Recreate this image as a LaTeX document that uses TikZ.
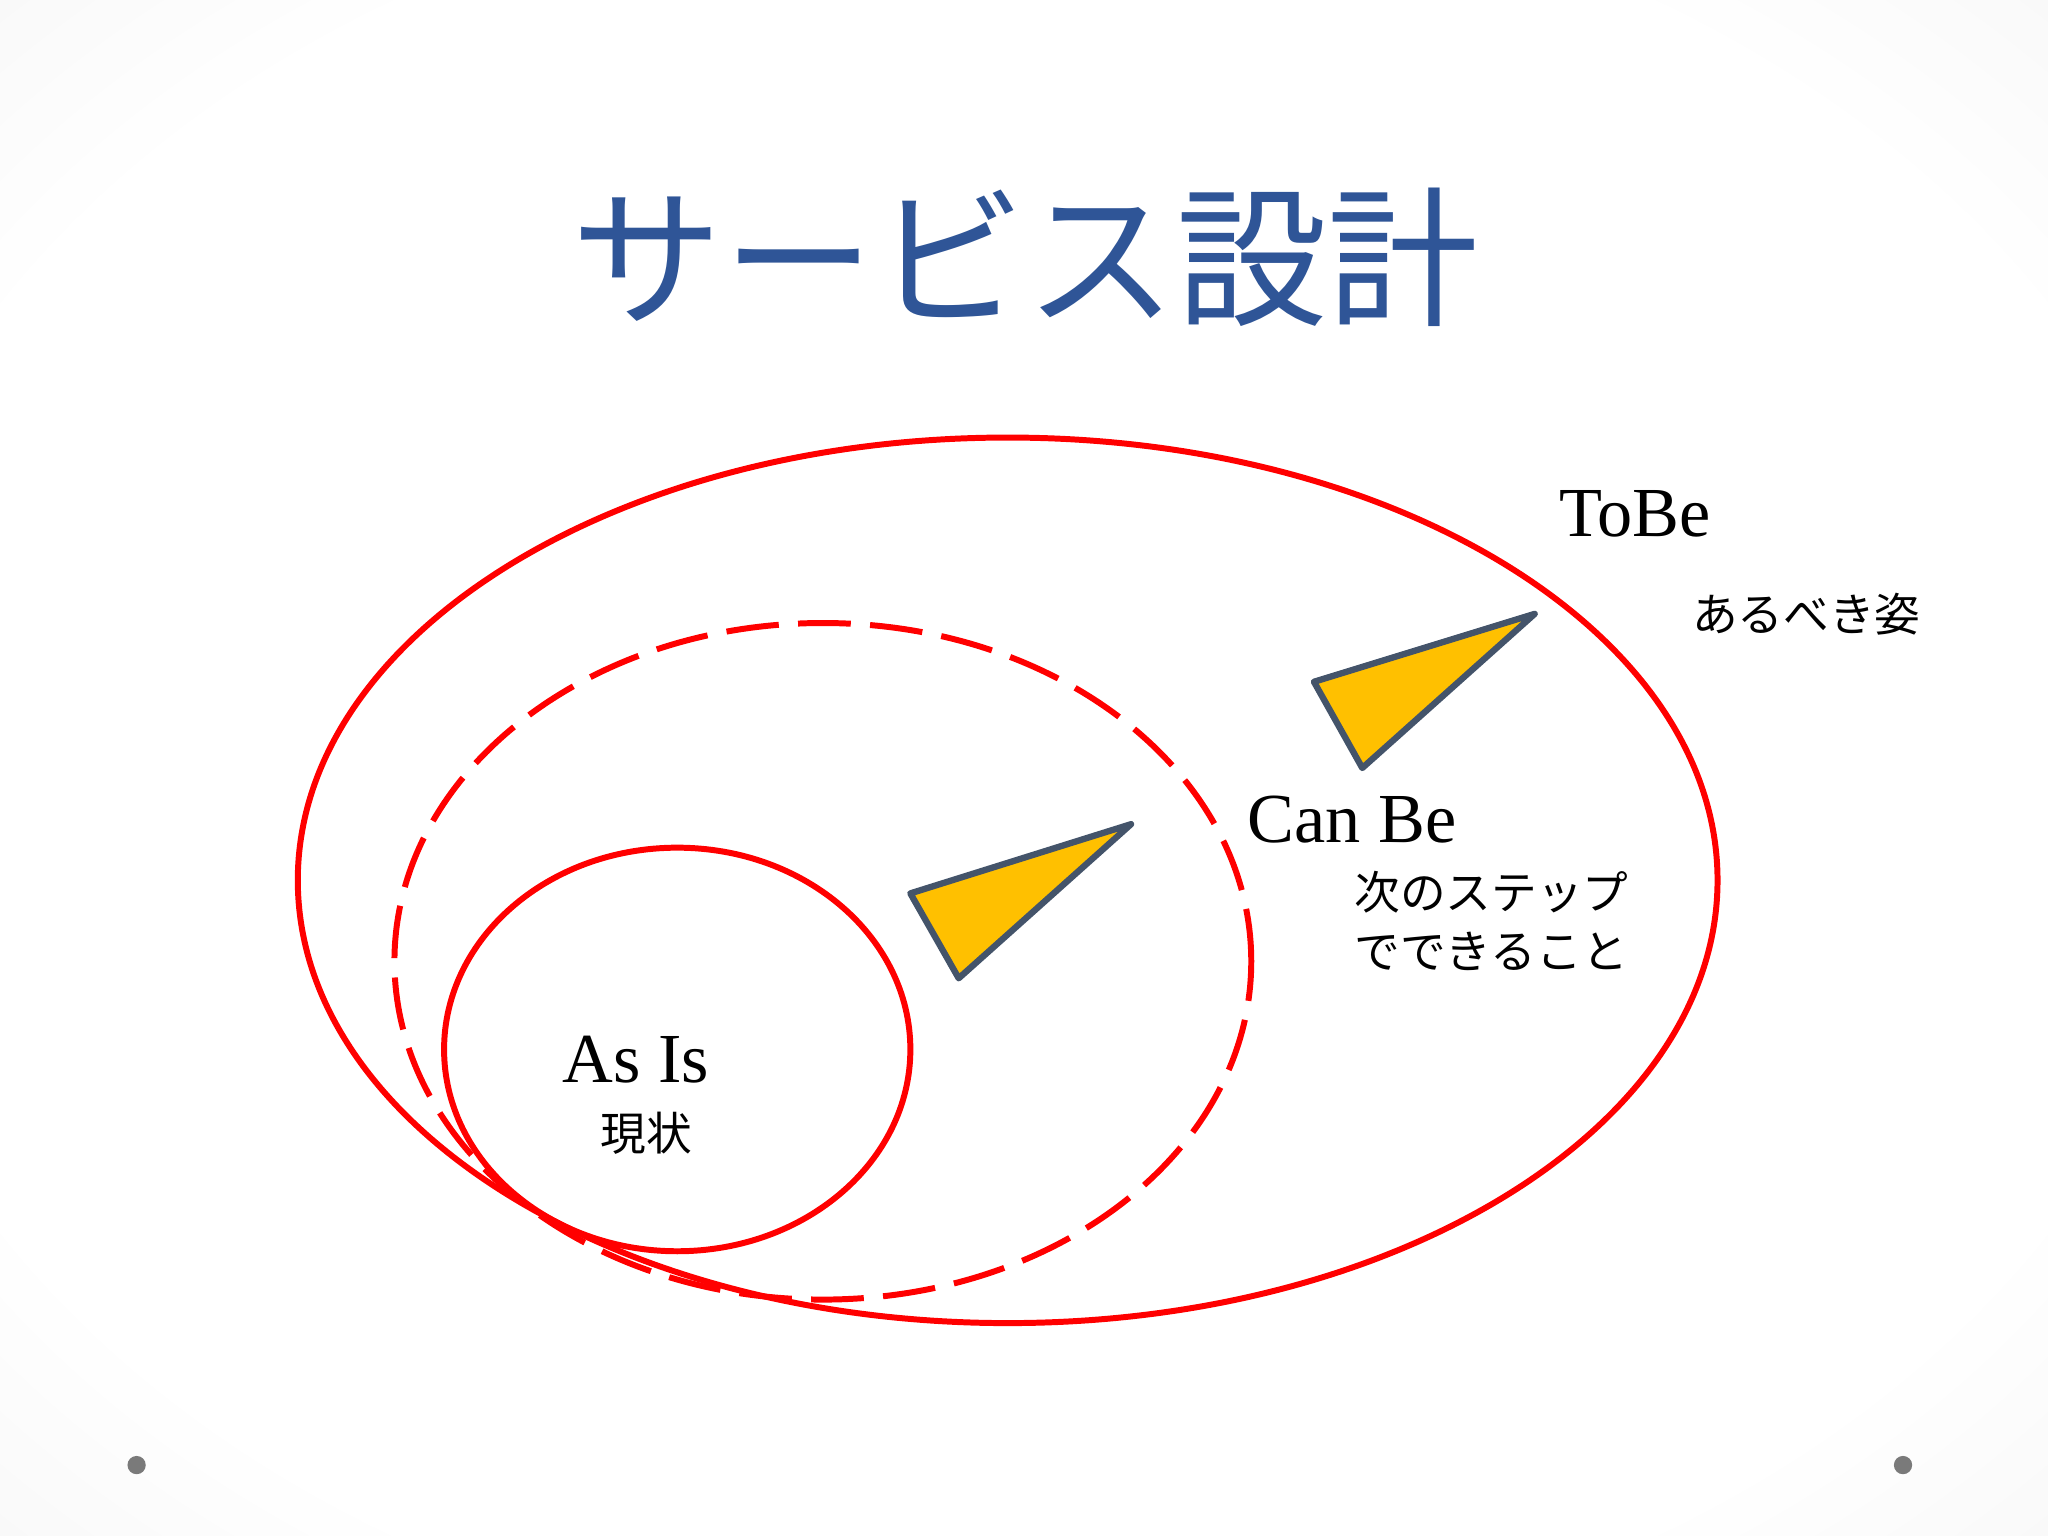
\documentclass[tikz,border=0pt]{standalone}
\usepackage{fontspec}
\setmainfont{Liberation Serif}
\newfontfamily\jpfont{Noto Sans CJK JP}
\usetikzlibrary{shapes.geometric}
\definecolor{titleblue}{RGB}{47,85,151}
\definecolor{arrowfill}{HTML}{FFC000}
\definecolor{arrowline}{HTML}{44546A}
\definecolor{dotgray}{RGB}{122,122,122}
\pgfdeclareradialshading{slidebg}{\pgfpoint{0bp}{0bp}}{color(0bp)=(white); color(24bp)=(white); color(50bp)=(black!11); color(72bp)=(black!15)}
\def\pxu{0.013061cm}
\tikzset{
  ring/.style={ellipse, draw=red, line width=1.7pt, inner sep=0pt, outer sep=0pt},
  dashring/.style={ring, dash pattern=on 15pt off 5.5pt},
  pointer/.style={fill=arrowfill, draw=arrowline, line width=1.8pt, line join=round},
  entitle/.style={font=\fontsize{20}{24}\selectfont, inner sep=0pt, anchor=base},
  jptext/.style={font=\jpfont\fontsize{13}{16.7}\selectfont, inner sep=0pt},
  dotmark/.style={circle, fill=dotgray, minimum size=14*\pxu, inner sep=0pt}
}
\begin{document}
\begin{tikzpicture}[x=\pxu, y=-\pxu]
\useasboundingbox (0,0) rectangle (1568,1176);
\shade[shading=slidebg] (-150,-120) rectangle (1718,1296);
% title
\node[font=\jpfont\fontsize{43}{50}\selectfont, text=titleblue, inner sep=0pt] (title) at (785,197) {サービス設計};
% ellipses
\node[ring, minimum width=1087*\pxu, minimum height=678*\pxu] (tobe) at (771.5,674) {};
\node[dashring, minimum width=656*\pxu, minimum height=518*\pxu] (canbe) at (630,736) {};
\node[ring, minimum width=357*\pxu, minimum height=309*\pxu] (asis) at (518.5,803.5) {};
% pointers
\coordinate (p1a) at (1006,522);
\coordinate (p1b) at (1175,470);
\coordinate (p1c) at (1043,588);
\draw[pointer] (p1a) -- (p1b) -- (p1c) -- cycle;
\coordinate (p2a) at (697,684);
\coordinate (p2b) at (866,631);
\coordinate (p2c) at (734,749);
\draw[pointer] (p2a) -- (p2b) -- (p2c) -- cycle;
% labels
\node[entitle] (tobelabel) at (1252,411) {ToBe};
\node[jptext] (tobejp) at (1383,470) {あるべき姿};
\node[entitle] (canbelabel) at (1035,645) {Can Be};
\node[jptext, align=left] (canbejp) at (1142,705) {次のステップ\\でできること};
\node[entitle] (asislabel) at (487,829) {As Is};
\node[jptext] (asisjp) at (495,868) {現状};
% dots
\node[dotmark] (dotl) at (104.6,1121.7) {};
\node[dotmark] (dotr) at (1457,1121.7) {};
\end{tikzpicture}
\end{document}
